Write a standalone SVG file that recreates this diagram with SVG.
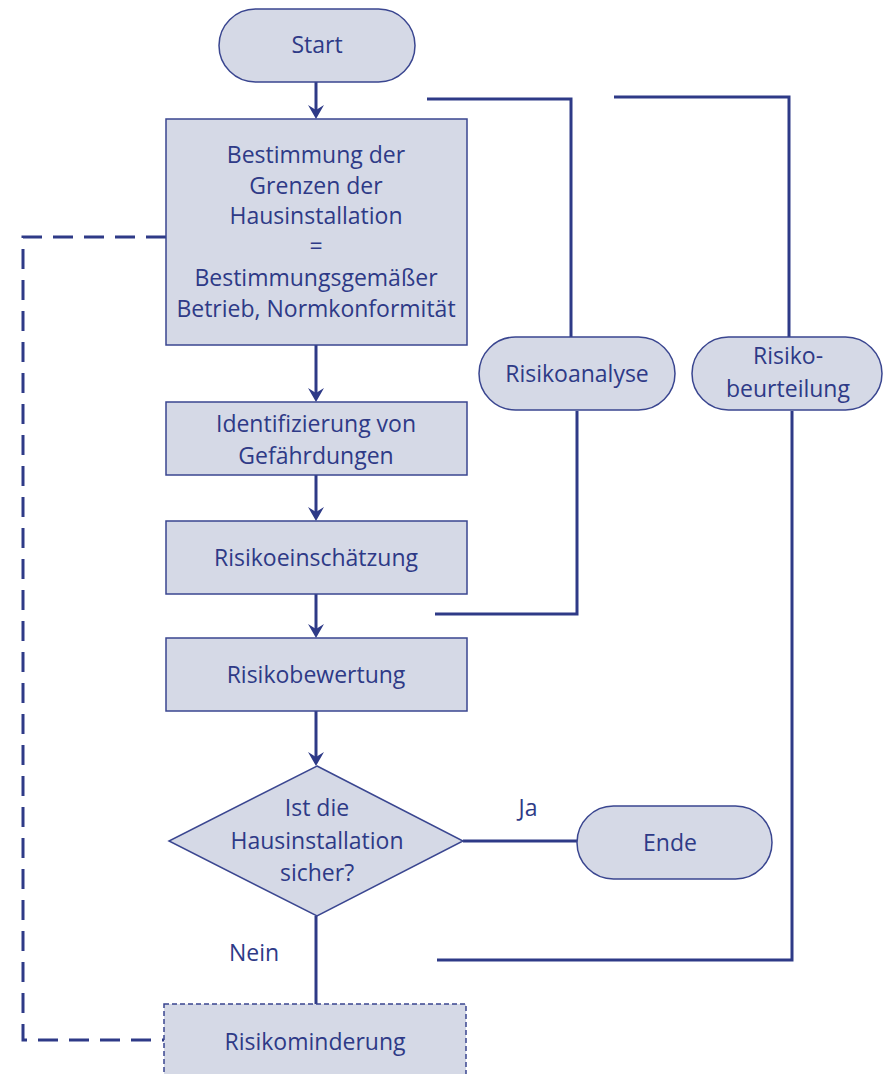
<svg xmlns="http://www.w3.org/2000/svg" width="883" height="1074" viewBox="0 0 883 1074">
<style>
.n{fill:#d5d9e6;stroke:#3a4690;stroke-width:1.5}
.d{stroke-dasharray:5 3}
.t{font-family:"Open Sans","Noto Sans",sans-serif;font-size:23px;fill:#2e3a87;text-anchor:middle}
.c{fill:none;stroke:#2e3a87;stroke-width:3}
.dash{stroke-dasharray:20 11}
.ah{fill:#2e3a87}
</style>
<g id="connectors">
<line class="c" x1="316" y1="82" x2="316" y2="112"/>
<path class="ah" d="M308,105 L316,110 L324,105 L316,119 Z"/>
<line class="c" x1="316" y1="345" x2="316" y2="395"/>
<path class="ah" d="M308,388 L316,393 L324,388 L316,402 Z"/>
<line class="c" x1="316" y1="475" x2="316" y2="514"/>
<path class="ah" d="M308,507 L316,512 L324,507 L316,521 Z"/>
<line class="c" x1="316" y1="594" x2="316" y2="631"/>
<path class="ah" d="M308,624 L316,629 L324,624 L316,638 Z"/>
<line class="c" x1="316" y1="711" x2="316" y2="760"/>
<path class="ah" d="M308,752 L316,757 L324,752 L316,766 Z"/>
<line class="c" x1="316" y1="916" x2="316" y2="1004"/>
<line class="c" x1="463" y1="841" x2="577" y2="841"/>
<path class="c" d="M427,99 H571 V337"/>
<path class="c" d="M577,411 V614 H435"/>
<path class="c" d="M614,97 H789 V337"/>
<path class="c" d="M792,411 V960 H437"/>
<path class="c dash" d="M166,237 H23 V1040 H164"/>
</g>
<g id="start"><rect class="n" x="219" y="9" width="196" height="73" rx="36.5"/><text class="t" x="317" y="53">Start</text></g>
<g id="grenzen"><rect class="n" x="166" y="119" width="301" height="226"/>
<text class="t" x="316" y="163">Bestimmung der</text>
<text class="t" x="316" y="194">Grenzen der</text>
<text class="t" x="316" y="224">Hausinstallation</text>
<text class="t" x="316" y="254">=</text>
<text class="t" x="316" y="286">Bestimmungsgemäßer</text>
<text class="t" x="316" y="317">Betrieb, Normkonformität</text></g>
<g id="identifizierung"><rect class="n" x="166" y="402" width="301" height="73"/>
<text class="t" x="316" y="432">Identifizierung von</text>
<text class="t" x="316" y="464">Gefährdungen</text></g>
<g id="einschaetzung"><rect class="n" x="166" y="521" width="301" height="73"/>
<text class="t" x="316" y="566">Risikoeinschätzung</text></g>
<g id="bewertung"><rect class="n" x="166" y="638" width="301" height="73"/>
<text class="t" x="316" y="683">Risikobewertung</text></g>
<g id="sicher"><polygon class="n" points="317,766 463,841 317,916 169,841"/>
<text class="t" x="317" y="816">Ist die</text>
<text class="t" x="317" y="849">Hausinstallation</text>
<text class="t" x="317" y="881">sicher?</text></g>
<g id="ende"><rect class="n" x="577" y="806" width="195" height="73" rx="36.5"/><text class="t" x="670" y="851">Ende</text></g>
<g id="analyse"><rect class="n" x="479" y="337" width="196" height="73" rx="36.5"/><text class="t" x="577" y="382">Risikoanalyse</text></g>
<g id="beurteilung"><rect class="n" x="692" y="337" width="190" height="73" rx="36.5"/><text class="t" x="788" y="364">Risiko-</text><text class="t" x="788" y="397">beurteilung</text></g>
<g id="minderung"><rect class="n d" x="164" y="1004" width="302" height="80"/><text class="t" x="315" y="1050">Risikominderung</text></g>
<text class="t" x="528" y="816">Ja</text>
<text class="t" x="254" y="961">Nein</text>
</svg>
